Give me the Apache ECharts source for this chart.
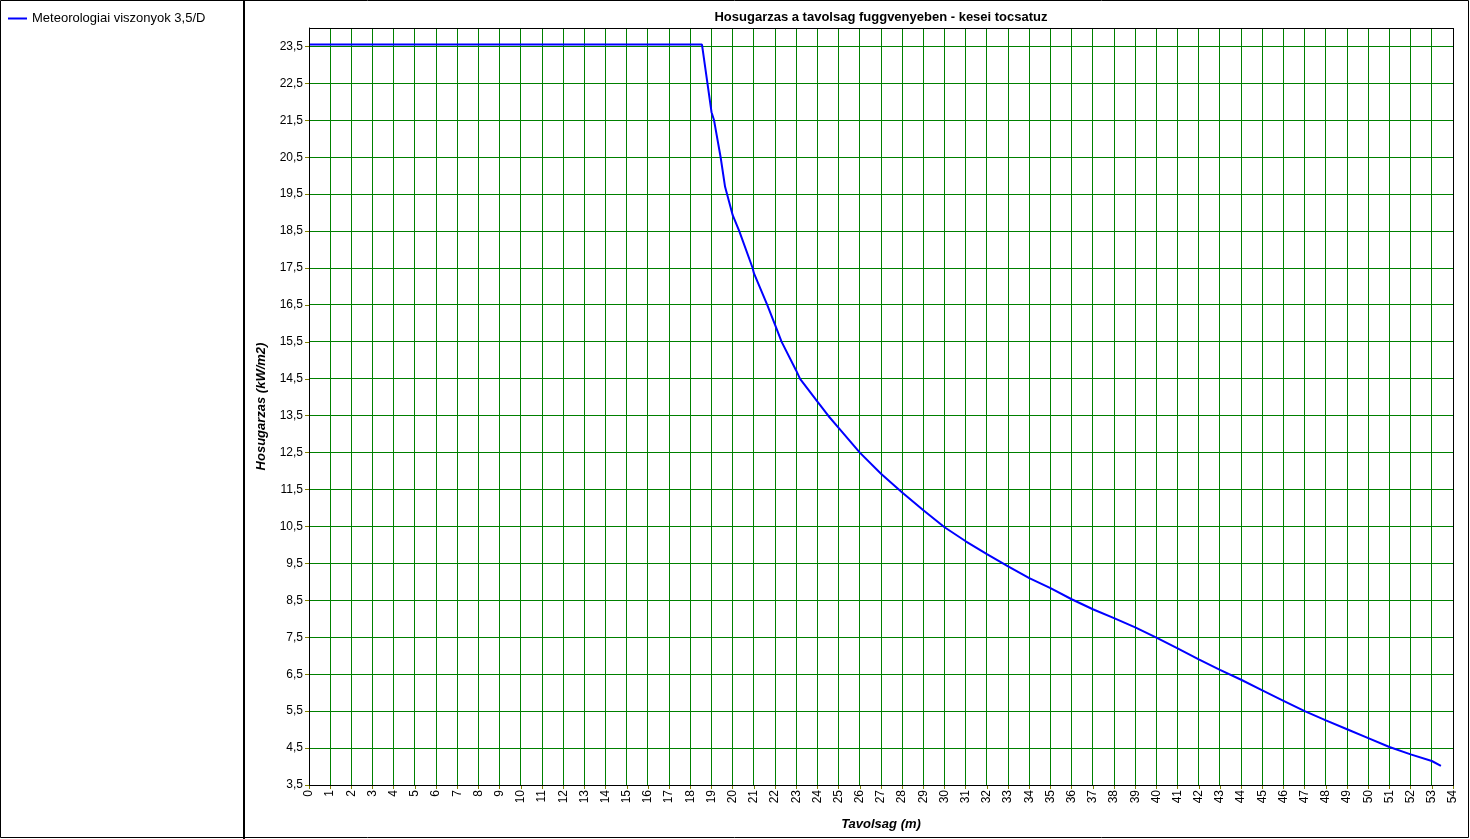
<!DOCTYPE html>
<html>
<head>
<meta charset="utf-8">
<script src="https://cdn.jsdelivr.net/npm/echarts@6/dist/echarts.min.js"></script>
<style>
html,body{margin:0;padding:0;background:#fff;}
#chart{width:1470px;height:839px;}
</style>
</head>
<body>
<div id="chart"></div>
<script>
// Data
const seriesName = 'Meteorologiai viszonyok 3,5/D';
const distance = [0, 18.55, 19, 19.12, 19.43, 19.64, 20, 20.31, 20.94, 21, 21.63, 22, 22.31, 23, 23.18, 24, 24.51, 25, 26, 27, 28, 29, 30, 31, 32, 33, 34, 35, 36, 37, 38, 39, 40, 41, 42, 43, 44, 45, 46, 47, 48, 49, 50, 51, 52, 53, 53.43];
const heatFlux = [23.55, 23.55, 21.72, 21.5, 20.5, 19.7, 18.93, 18.5, 17.5, 17.36, 16.5, 15.96, 15.5, 14.72, 14.5, 13.88, 13.5, 13.17, 12.5, 11.93, 11.42, 10.94, 10.48, 10.1, 9.75, 9.42, 9.1, 8.83, 8.53, 8.26, 8.02, 7.77, 7.49, 7.2, 6.9, 6.62, 6.35, 6.06, 5.78, 5.5, 5.25, 5.01, 4.77, 4.53, 4.33, 4.15, 4.02];
const titleText = 'Hosugarzas a tavolsag fuggvenyeben - kesei tocsatuz';
const xName = 'Tavolsag (m)';
const yName = 'Hosugarzas (kW/m2)';
const xMin = 0, xMax = 54, xStep = 1;
const yMin = 3.5, yMax = 24, yStep = 1;
// grid-line positions (axis tick values)
const xTicks = [0,1,2,3,4,5,6,7,8,9,10,11,12,13,14,15,16,17,18,19,20,21,22,23,24,25,26,27,28,29,30,31,32,33,34,35,36,37,38,39,40,41,42,43,44,45,46,47,48,49,50,51,52,53,54];
const yTicks = [3.5,4.5,5.5,6.5,7.5,8.5,9.5,10.5,11.5,12.5,13.5,14.5,15.5,16.5,17.5,18.5,19.5,20.5,21.5,22.5,23.5];

const G = {left: 309, top: 28, right: 1453, bottom: 785};
const PW = G.right - G.left, PH = G.bottom - G.top;
const chart = echarts.init(document.getElementById('chart'), null, {renderer: 'canvas', devicePixelRatio: 1});
const FONT = '"Liberation Sans", Arial, sans-serif';
const nameStyle = {fontFamily: FONT, fontSize: 13, fontWeight: 'bold', fontStyle: 'italic', color: '#000'};
const fmtY = v => (Math.abs((v - 3.5) % 1) < 1e-6 ? v.toFixed(1).replace('.', ',') : '');

function vGrid(params, api) {
  const p = api.coord([api.value(0), yMin]);
  const q = api.coord([api.value(0), yMax]);
  const x = Math.floor(p[0]);
  return {type: 'rect', shape: {x: x, y: Math.round(q[1]), width: 1, height: Math.round(p[1]) - Math.round(q[1])},
    style: {fill: '#008000', stroke: null, lineWidth: 0}, silent: true};
}
function hGrid(params, api) {
  const p = api.coord([xMin, api.value(0)]);
  const q = api.coord([xMax, api.value(0)]);
  const y = Math.floor(p[1]);
  return {type: 'rect', shape: {x: Math.round(p[0]), y: y, width: Math.round(q[0]) - Math.round(p[0]), height: 1},
    style: {fill: '#008000', stroke: null, lineWidth: 0}, silent: true};
}

const option = {
  animation: false,
  backgroundColor: '#fff',
  textStyle: {fontFamily: FONT},
  title: {
    text: titleText,
    left: (G.left + G.right) / 2 - 5,
    top: 6,
    textAlign: 'center',
    textStyle: {fontFamily: FONT, fontSize: 13, fontWeight: 'bold', color: '#000'}
  },
  legend: {
    left: 3, top: 7,
    icon: 'rect', itemWidth: 19, itemHeight: 2, itemGap: 10,
    textStyle: {fontFamily: FONT, fontSize: 13, color: '#000'},
    data: [seriesName]
  },
  grid: {left: G.left, top: G.top, right: 1470 - G.right, bottom: 839 - G.bottom, containLabel: false, outerBoundsMode: 'none'},
  xAxis: {
    type: 'value', min: xMin, max: xMax, interval: xStep, position: 'bottom',
    name: xName, nameLocation: 'middle', nameGap: 33, nameTextStyle: nameStyle,
    axisLine: {show: true, onZero: false, lineStyle: {color: '#000', width: 1}},
    axisTick: {show: true, length: 4, lineStyle: {color: '#808000'}},
    axisLabel: {rotate: 90, margin: 5, fontFamily: FONT, fontSize: 12, color: '#000', showMaxLabel: true, showMinLabel: true},
    splitLine: {show: false}
  },
  yAxis: {
    type: 'value', min: yMin, max: yMax, interval: yStep, position: 'left',
    name: yName, nameLocation: 'middle', nameGap: 41, nameTextStyle: nameStyle,
    axisLine: {show: true, onZero: false, lineStyle: {color: '#000', width: 1}},
    axisTick: {show: true, length: 4, lineStyle: {color: '#808000'}},
    axisLabel: {margin: 6, fontFamily: FONT, fontSize: 12, color: '#000', showMaxLabel: false, formatter: fmtY},
    splitLine: {show: false}
  },
  series: [{
    type: 'custom', name: 'vgrid', z: 1, silent: true, clip: false,
    renderItem: vGrid, encode: {x: 0}, data: xTicks.map(v => [v]), legendHoverLink: false
  }, {
    type: 'custom', name: 'hgrid', z: 1, silent: true, clip: false,
    renderItem: hGrid, encode: {y: 0}, data: yTicks.map(v => [v]), legendHoverLink: false
  }, {
    name: seriesName,
    type: 'line',
    z: 3,
    symbol: 'none',
    lineStyle: {color: '#0000ff', width: 2},
    itemStyle: {color: '#0000ff'},
    data: distance.map((d, i) => [d, heatFlux[i]])
  }],
  graphic: [
    {type: 'rect', z: 100, silent: true, shape: {x: G.left, y: G.top, width: 1, height: PH + 1}, style: {fill: '#000'}},
    {type: 'rect', z: 100, silent: true, shape: {x: G.right, y: G.top, width: 1, height: PH + 1}, style: {fill: '#000'}},
    {type: 'rect', z: 100, silent: true, shape: {x: G.left, y: G.top, width: PW + 1, height: 1}, style: {fill: '#000'}},
    {type: 'rect', z: 100, silent: true, shape: {x: G.left, y: G.bottom, width: PW + 1, height: 1}, style: {fill: '#000'}},
    {type: 'rect', z: 100, silent: true, shape: {x: 0.5, y: 0.5, width: 1468, height: 837},
      style: {fill: 'none', stroke: '#000', lineWidth: 1}},
    {type: 'rect', z: 100, silent: true, shape: {x: 243, y: 0, width: 2, height: 839},
      style: {fill: '#000', stroke: 'none'}}
  ]
};
chart.setOption(option);
</script>
</body>
</html>
